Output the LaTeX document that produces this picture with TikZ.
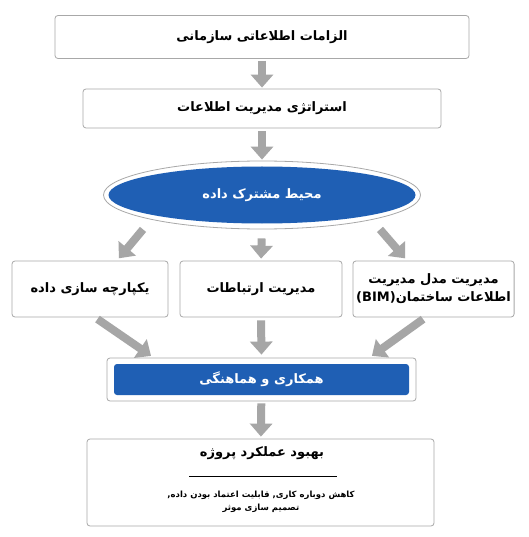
\documentclass[tikz,border=0pt]{standalone}
\usepackage{fontspec}
\usetikzlibrary{arrows.meta,shapes.geometric}
\TeXXeTstate=1
\newfontfamily\arabicfont[Script=Arabic]{DejaVu Sans}
\definecolor{cdeblue}{HTML}{1F5FB4}
\definecolor{boxgray}{HTML}{A8A8A8}
\definecolor{arrowgray}{HTML}{A6A6A6}
\newcommand{\fa}[1]{\beginR #1\endR}

\begin{document}
\begin{tikzpicture}[x=1pt,y=-1pt,
  box/.style={draw=boxgray,fill=white,rounded corners=3pt,line width=0.8pt,
    font=\arabicfont\bfseries\fontsize{13}{18}\selectfont,align=center},
  flow/.style={draw=arrowgray,line width=8pt,-{Triangle[length=13pt,width=22pt]}},
  ]
\useasboundingbox[fill=white] (0,0) rectangle (528,537);
% boxes
\node[box,minimum width=414pt,minimum height=43pt] (req) at (262,37) {\fa{الزامات اطلاعاتی سازمانی}};
\node[box,minimum width=358pt,minimum height=39pt] (strat) at (262,108.5) {\fa{استراتژی مدیریت اطلاعات}};
\node[box,ellipse,rounded corners=0pt,minimum width=317pt,minimum height=68pt,text=white,
  path picture={\fill[cdeblue] (path picture bounding box.center) ellipse [x radius=153.5pt,y radius=28.5pt];}]
  (cde) at (262,195) {\fa{محیط مشترک داده}};
\node[box,minimum width=156pt,minimum height=56pt] (integ) at (90,289) {\fa{یکپارچه سازی داده}};
\node[box,minimum width=162pt,minimum height=56pt] (comm) at (261,289) {\fa{مدیریت ارتباطات}};
\node[box,minimum width=161pt,minimum height=56pt] (bim) at (433.5,289)
  {\fa{مدیریت مدل مدیریت}\\(BIM)\fa{اطلاعات ساختمان}};
\node[box,minimum width=309pt,minimum height=43pt,text=white,
  path picture={\fill[cdeblue] ([shift={(7pt,-6pt)}]path picture bounding box.north west)
    rectangle ([shift={(-7pt,6pt)}]path picture bounding box.south east);}]
  (collab) at (261.5,379.5) {\fa{همکاری و هماهنگی}};
\node[box,minimum width=347pt,minimum height=87pt] (perf) at (260.5,482.5) {};
\node[font=\arabicfont\bfseries\fontsize{13}{18}\selectfont] (perfT) at (262,453) {\fa{بهبود عملکرد پروژه}};
\draw[line width=0.6pt] (189,476) -- (337,476);
\node[font=\arabicfont\bfseries\fontsize{8.5}{13}\selectfont,align=center] (perfB) at (261,502)
  {\fa{کاهش دوباره کاری, قابلیت اعتماد بودن داده,}\\\fa{تصمیم سازی موثر}};
% arrows
\draw[flow,shorten <=2pt,shorten >=1pt] (req) -- (strat);
\draw[flow,shorten <=3pt,shorten >=1pt] (strat) -- (cde);
\draw[flow,shorten >=3pt] ([xshift=-119pt]cde.south) -- ([xshift=27pt]integ.north);
\draw[flow,shorten <=9pt,shorten >=2pt] (cde.south) -- (comm.north);
\draw[flow,shorten >=3pt] ([xshift=118pt]cde.south) -- ([xshift=-26.5pt]bim.north);
\draw[flow,shorten <=3pt,shorten >=3pt] ([xshift=5pt]integ.south) -- ([xshift=-108pt]collab.north);
\draw[flow,shorten <=3pt,shorten >=3pt] (comm.south) -- (collab.north);
\draw[flow,shorten <=3pt,shorten >=3pt] ([xshift=-8pt]bim.south) -- ([xshift=108pt]collab.north);
\draw[flow,shorten <=2pt,shorten >=2pt] (collab) -- (perf);
\end{tikzpicture}
\end{document}
